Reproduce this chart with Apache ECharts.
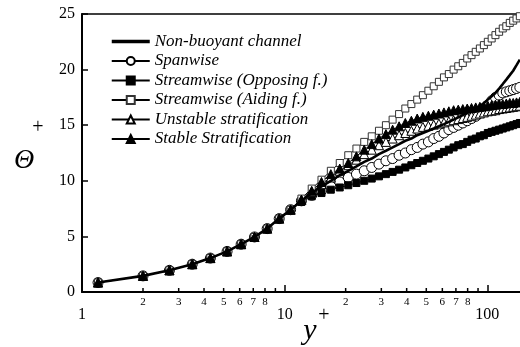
<!DOCTYPE html>
<html>
<head>
<meta charset="utf-8">
<script src="https://cdn.jsdelivr.net/npm/echarts@6/dist/echarts.min.js"></script>
<style>
  html, body { margin: 0; padding: 0; background: #fff; }
  #main { width: 520px; height: 347px; }
</style>
</head>
<body>
<div id="main"></div>
<script>
// y+ positions of the plotted points
var yPlus = [1.2, 2.0, 2.7, 3.5, 4.3, 5.2, 6.1, 7.1, 8.2, 9.4,
  10.7, 12.1, 13.6, 15.2, 16.9, 18.7, 20.6, 22.6, 24.7, 26.9,
  29.2, 31.6, 34.1, 36.7, 39.4, 42.2, 45.1, 48.1, 51.2, 54.4,
  57.7, 61.1, 64.6, 68.2, 71.9, 75.7, 79.6, 83.6, 87.7, 91.9,
  96.2, 100.6, 105.1, 109.7, 114.4, 119.2, 124.1, 129.1, 134.2, 139.4, 144.7];

var nonBuoyant = [0.85, 1.45, 1.95, 2.5, 3.05, 3.65, 4.3, 4.95, 5.7, 6.6, 7.4,
  8.2, 8.9, 9.5, 10.0, 10.5, 10.9, 11.3, 11.7, 12.0, 12.4,
  12.7, 13.0, 13.3, 13.6, 13.8, 14.1, 14.3, 14.5, 14.7, 14.9,
  15.1, 15.3, 15.5, 15.7, 15.9, 16.1, 16.3, 16.5, 16.7, 17.0,
  17.3, 17.6, 17.9, 18.3, 18.7, 19.1, 19.5, 19.9, 20.4, 20.9];

var spanwise = [0.85, 1.45, 1.95, 2.5, 3.05, 3.65, 4.3, 4.95, 5.7, 6.6, 7.4,
  8.2, 8.7, 9.1, 9.5, 9.9, 10.3, 10.6, 10.9, 11.2, 11.5,
  11.8, 12.0, 12.3, 12.5, 12.8, 13.0, 13.3, 13.5, 13.8, 14.0,
  14.3, 14.6, 14.8, 15.0, 15.2, 15.4, 15.6, 15.8, 16.1, 16.4,
  16.8, 17.2, 17.5, 17.7, 17.9, 18.0, 18.1, 18.2, 18.3, 18.4];

var opposing = [0.85, 1.45, 1.95, 2.5, 3.05, 3.65, 4.3, 4.95, 5.7, 6.6, 7.4,
  8.1, 8.6, 8.9, 9.2, 9.4, 9.6, 9.8, 10.0, 10.2, 10.4,
  10.6, 10.8, 11.0, 11.2, 11.4, 11.6, 11.8, 12.0, 12.2, 12.4,
  12.6, 12.8, 13.0, 13.2, 13.3, 13.5, 13.7, 13.8, 14.0, 14.1,
  14.3, 14.4, 14.5, 14.6, 14.7, 14.8, 14.9, 15.0, 15.1, 15.2];

var aiding = [0.85, 1.45, 1.95, 2.5, 3.05, 3.65, 4.3, 4.95, 5.7, 6.6, 7.4,
  8.4, 9.3, 10.1, 10.9, 11.6, 12.3, 12.9, 13.5, 14.0, 14.5,
  15.0, 15.5, 16.0, 16.5, 16.9, 17.3, 17.7, 18.1, 18.5, 18.9,
  19.3, 19.6, 20.0, 20.3, 20.6, 21.0, 21.3, 21.6, 21.9, 22.2,
  22.5, 22.8, 23.1, 23.4, 23.7, 23.9, 24.2, 24.4, 24.6, 24.8];

var unstable = [0.85, 1.45, 1.95, 2.5, 3.05, 3.65, 4.3, 4.95, 5.7, 6.6, 7.4,
  8.3, 9.0, 9.7, 10.3, 10.9, 11.4, 11.9, 12.4, 12.8, 13.2,
  13.5, 13.8, 14.1, 14.3, 14.5, 14.7, 14.85, 14.95, 15.05, 15.15,
  15.25, 15.35, 15.45, 15.55, 15.65, 15.75, 15.85, 15.95, 16.05, 16.15,
  16.25, 16.3, 16.35, 16.45, 16.5, 16.55, 16.6, 16.65, 16.7, 16.75];

var stable = [0.85, 1.45, 1.95, 2.5, 3.05, 3.65, 4.3, 4.95, 5.7, 6.6, 7.4,
  8.3, 9.1, 9.9, 10.6, 11.1, 11.6, 12.2, 12.8, 13.3, 13.8,
  14.2, 14.6, 14.9, 15.2, 15.4, 15.6, 15.75, 15.85, 15.95, 16.05,
  16.15, 16.25, 16.35, 16.4, 16.45, 16.5, 16.55, 16.6, 16.65, 16.7,
  16.75, 16.8, 16.85, 16.9, 16.9, 16.95, 17.0, 17.0, 17.05, 17.1];

// minor ticks on the log axis and their labels
var minorTicks = [2, 3, 4, 5, 6, 7, 8, 9, 20, 30, 40, 50, 60, 70, 80, 90];
var minorLabels = ['2', '3', '4', '5', '6', '7', '8', '', '2', '3', '4', '5', '6', '7', '8', ''];
var majorLabels = [1, 10, 100];

var FONT = '"Liberation Serif", "DejaVu Serif", serif';

function pairs(vals) {
  return yPlus.map(function (x, i) { return [x, vals[i]]; });
}

function markerSeries(name, vals, symbol, size, fill, border) {
  return {
    name: name,
    type: 'line',
    data: pairs(vals),
    symbol: symbol,
    symbolSize: size,
    itemStyle: { color: fill, borderColor: border, borderWidth: 1 },
    lineStyle: { color: '#000', width: 1 }
  };
}

var chart = echarts.init(document.getElementById('main'));

var legendNames = ['Non-buoyant channel', 'Spanwise', 'Streamwise (Opposing f.)',
  'Streamwise (Aiding f.)', 'Unstable stratification', 'Stable Stratification'];

var option = {
  animation: false,
  backgroundColor: '#fff',
  grid: { left: 82, right: 0, top: 14, bottom: 55 },
  legend: {
    orient: 'vertical',
    left: 110,
    top: 33,
    padding: 0,
    itemWidth: 38,
    itemHeight: 10,
    itemGap: 2.5,
    textStyle: { fontFamily: FONT, fontStyle: 'italic', fontSize: 17, lineHeight: 17, color: '#000' },
    data: legendNames.map(function (n, i) {
      return { name: n, lineStyle: { width: i === 0 ? 3.5 : 2 } };
    })
  },
  xAxis: [
    {
      type: 'log',
      logBase: 10,
      min: 1,
      max: 145,
      axisLine: { lineStyle: { color: '#000', width: 2 } },
      axisTick: { inside: true, length: 7, lineStyle: { color: '#000', width: 1.5 } },
      splitLine: { show: false },
      axisLabel: {
        margin: 15,
        showMaxLabel: false,
        fontFamily: FONT,
        fontSize: 16,
        color: '#000',
        formatter: function (v) {
          return majorLabels.indexOf(Math.round(v)) >= 0 ? String(Math.round(v)) : '';
        }
      }
    },
    {
      type: 'log',
      logBase: 10,
      min: 1,
      max: 145,
      position: 'top',
      axisLine: { lineStyle: { color: '#000', width: 1.5 } },
      axisTick: { show: false },
      axisLabel: { show: false },
      splitLine: { show: false }
    }
  ],
  yAxis: {
    type: 'value',
    min: 0,
    max: 25,
    interval: 5,
    axisLine: { show: true, lineStyle: { color: '#000', width: 2 } },
    axisTick: { show: true, inside: true, length: 6, lineStyle: { color: '#000', width: 1.5 } },
    splitLine: { show: false },
    axisLabel: { margin: 7, fontFamily: FONT, fontSize: 16, color: '#000' }
  },
  graphic: [
    { type: 'text', x: 24, y: 161, style: { text: 'Θ', font: 'italic 28px ' + FONT, fill: '#000', align: 'center', verticalAlign: 'middle' } },
    { type: 'text', x: 38, y: 128, style: { text: '+', font: '20px ' + FONT, fill: '#000', align: 'center', verticalAlign: 'middle' } },
    { type: 'text', x: 310, y: 331, style: { text: 'y', font: 'italic 30px ' + FONT, fill: '#000', align: 'center', verticalAlign: 'middle' } },
    { type: 'text', x: 324, y: 316, style: { text: '+', font: '20px ' + FONT, fill: '#000', align: 'center', verticalAlign: 'middle' } }
  ],
  series: [
    {
      name: 'Non-buoyant channel',
      type: 'line',
      data: pairs(nonBuoyant),
      symbol: 'none',
      lineStyle: { color: '#000', width: 2.6 },
      itemStyle: { color: 'rgba(0,0,0,0)', borderWidth: 0 },
      z: 5
    },
    markerSeries('Spanwise', spanwise, 'circle', 10, '#fff', '#000'),
    markerSeries('Streamwise (Opposing f.)', opposing, 'rect', 7, '#000', '#000'),
    markerSeries('Streamwise (Aiding f.)', aiding, 'rect', 7, '#fff', '#333'),
    markerSeries('Unstable stratification', unstable, 'triangle', 9, '#fff', '#000'),
    markerSeries('Stable Stratification', stable, 'triangle', 9, '#000', '#000'),
    {
      type: 'custom',
      name: 'minorTicks',
      silent: true,
      clip: false,
      z: 10,
      data: minorTicks.map(function (v, i) { return [v, 0, i]; }),
      renderItem: function (params, api) {
        var p = api.coord([api.value(0), 0]);
        var i = api.value(2);
        return {
          type: 'group',
          children: [
            { type: 'line', shape: { x1: p[0], y1: p[1], x2: p[0], y2: p[1] - 4 }, style: { stroke: '#000', lineWidth: 1.5 } },
            { type: 'text', x: p[0], y: p[1] + 10, style: { text: minorLabels[i], font: '11px ' + FONT, fill: '#000', align: 'center', verticalAlign: 'middle' } }
          ]
        };
      }
    }
  ]
};

chart.setOption(option);
</script>
</body>
</html>
